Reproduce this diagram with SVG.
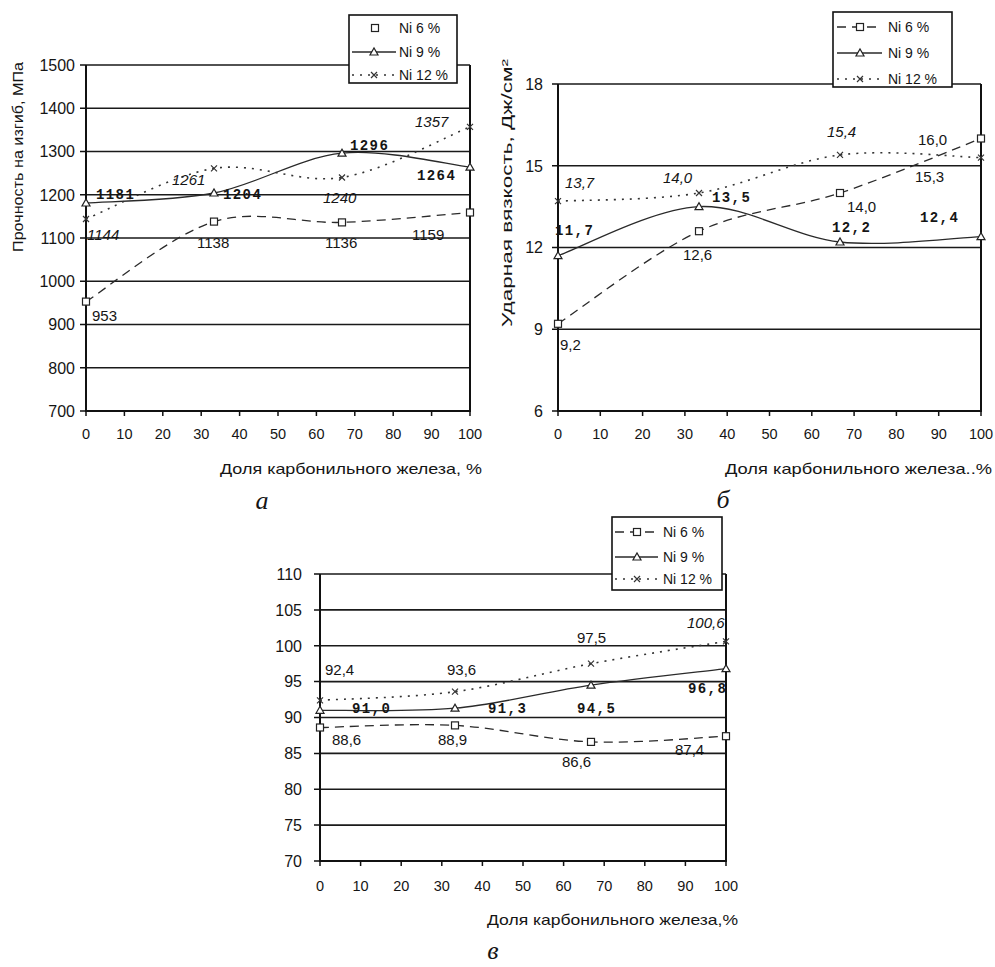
<svg xmlns="http://www.w3.org/2000/svg" xmlns:xlink="http://www.w3.org/1999/xlink" width="995" height="967" viewBox="0 0 995 967">
<style>
text{font-family:"Liberation Sans",Arial,sans-serif;fill:#151515}
.grid{stroke:#1a1a1a;stroke-width:1.6;fill:none}
.axis{stroke:#111;stroke-width:2;fill:none}
.tk{stroke:#111;stroke-width:1.5}
.xt{font-size:14.5px;text-anchor:middle}
.yt{font-size:16px;text-anchor:end}
.ttl{font-size:15px}
.lp{font-size:15px}
.li{font-size:15px;font-style:italic}
.lm{font-family:"Liberation Mono","Courier New",monospace;font-size:14px;font-weight:bold;letter-spacing:1.4px}
.s6{stroke:#2a2a2a;stroke-width:1.3;fill:none;stroke-dasharray:9 6}
.s9{stroke:#2a2a2a;stroke-width:1.3;fill:none}
.s12{stroke:#333;stroke-width:1.6;fill:none;stroke-dasharray:2 6}
.mk{fill:#fff;stroke:#222;stroke-width:1.2}
.xm{fill:none;stroke:#333;stroke-width:1.2}
.leg{fill:#fff;stroke:#111;stroke-width:1.6}
.lt{font-size:14px}
.cap{font-family:"Liberation Serif","Times New Roman",serif;font-style:italic;font-size:26px;text-anchor:middle}
</style>
<defs>
<rect id="sq" x="-3.5" y="-3.5" width="7" height="7" class="mk"/>
<path id="tri" d="M-4,3 L4,3 L0,-4 Z" class="mk"/>
<path id="xx" d="M-3,-3 L3,3 M-3,3 L3,-3" class="xm"/>
<clipPath id="clipC"><rect x="240" y="571" width="60" height="160"/></clipPath>
</defs>
<rect width="995" height="967" fill="#fff"/>

<!-- ================= Chart a ================= -->
<g id="chart-a">
<g id="a-grid">
<path class="grid" d="M86,65H470M86,108.25H470M86,151.5H470M86,194.75H470M86,238H470M86,281.25H470M86,324.5H470M86,367.75H470"/>
<path class="axis" d="M86,65V411H470V65"/>
<path class="tk" d="M80,65H86M80,108.25H86M80,151.5H86M80,194.75H86M80,238H86M80,281.25H86M80,324.5H86M80,367.75H86M80,411H86"/>
<path class="tk" d="M86,411V416M124.4,411V416M162.8,411V416M201.2,411V416M239.6,411V416M278,411V416M316.4,411V416M354.8,411V416M393.2,411V416M431.6,411V416M470,411V416"/>
</g>
<g id="a-yticks">
<text class="yt" x="75" y="70.5">1500</text>
<text class="yt" x="75" y="113.5">1400</text>
<text class="yt" x="75" y="157">1300</text>
<text class="yt" x="75" y="200.5">1200</text>
<text class="yt" x="75" y="243.5">1100</text>
<text class="yt" x="75" y="286.5">1000</text>
<text class="yt" x="75" y="330">900</text>
<text class="yt" x="75" y="373.5">800</text>
<text class="yt" x="75" y="416.5">700</text>
</g>
<g id="a-xticks">
<text class="xt" x="86" y="439">0</text>
<text class="xt" x="124.4" y="439">10</text>
<text class="xt" x="162.8" y="439">20</text>
<text class="xt" x="201.2" y="439">30</text>
<text class="xt" x="239.6" y="439">40</text>
<text class="xt" x="278" y="439">50</text>
<text class="xt" x="316.4" y="439">60</text>
<text class="xt" x="354.8" y="439">70</text>
<text class="xt" x="393.2" y="439">80</text>
<text class="xt" x="431.6" y="439">90</text>
<text class="xt" x="470" y="439">100</text>
</g>
<text id="a-xtitle" class="ttl" x="482" y="474" text-anchor="end" textLength="262" lengthAdjust="spacingAndGlyphs">Доля карбонильного железа,  %</text>
<text id="a-ytitle" class="ttl" transform="translate(23,157) rotate(-90)" text-anchor="middle" font-size="14" textLength="190" lengthAdjust="spacingAndGlyphs">Прочность на изгиб, МПа</text>
<g id="a-series">
<path class="s6" d="M86,301.6 C107.3,288.3 171.3,234.8 214,221.6 C256.7,208.4 299.3,223.9 342,222.4 C384.7,220.9 448.7,214.1 470,212.5"/>
<path class="s9" d="M86,203 C107.3,201.3 171.3,201.3 214,193 C256.7,184.7 299.3,157.5 342,153.2 C384.7,148.9 448.7,164.7 470,167.1"/>
<path class="s12" d="M86,219 C107.3,210.6 171.3,175.3 214,168.4 C256.7,161.5 299.3,184.4 342,177.5 C384.7,170.6 448.7,135.3 470,126.8"/>
<use xlink:href="#sq" x="86" y="301.6"/><use xlink:href="#sq" x="214" y="221.6"/><use xlink:href="#sq" x="342" y="222.4"/><use xlink:href="#sq" x="470" y="212.5"/>
<use xlink:href="#tri" x="86" y="203"/><use xlink:href="#tri" x="214" y="193"/><use xlink:href="#tri" x="342" y="153.2"/><use xlink:href="#tri" x="470" y="167.1"/>
<use xlink:href="#xx" x="86" y="219"/><use xlink:href="#xx" x="214" y="168.4"/><use xlink:href="#xx" x="342" y="177.5"/><use xlink:href="#xx" x="470" y="126.8"/>
</g>
<g id="a-labels">
<text class="lm" x="96" y="199">1181</text>
<text class="lm" x="223" y="199">1204</text>
<text class="lm" x="350" y="150">1296</text>
<text class="lm" x="417" y="180">1264</text>
<text class="li" x="172" y="185">1261</text>
<text class="li" x="323" y="203">1240</text>
<text class="li" x="415" y="127">1357</text>
<text class="li" x="87" y="240">1144</text>
<text class="lp" x="197" y="248">1138</text>
<text class="lp" x="325" y="248">1136</text>
<text class="lp" x="412" y="240">1159</text>
<text class="lp" x="92" y="321">953</text>
</g>
<g id="a-legend">
<rect class="leg" x="349" y="15" width="108" height="68"/>
<use xlink:href="#sq" x="375" y="28"/>
<text class="lt" x="399" y="33">Ni 6 %</text>
<path class="s9" d="M352,52H396"/><use xlink:href="#tri" x="374" y="52"/>
<text class="lt" x="399" y="57">Ni 9 %</text>
<path class="s12" d="M352,75H396"/><use xlink:href="#xx" x="374" y="75"/>
<text class="lt" x="399" y="80">Ni 12 %</text>
</g>
<text id="a-cap" class="cap" x="262" y="509">а</text>
</g>

<!-- ================= Chart б ================= -->
<g id="chart-b">
<g id="b-grid">
<path class="grid" d="M558,84H981M558,165.75H981M558,247.5H981M558,329.25H981"/>
<path class="axis" d="M558,84V411H981V84"/>
<path class="tk" d="M552,84H558M552,165.75H558M552,247.5H558M552,329.25H558M552,411H558"/>
<path class="tk" d="M558,411V416M600.3,411V416M642.6,411V416M684.9,411V416M727.2,411V416M769.5,411V416M811.8,411V416M854.1,411V416M896.4,411V416M938.7,411V416M981,411V416"/>
</g>
<g id="b-yticks">
<text class="yt" x="543" y="89.5">18</text>
<text class="yt" x="543" y="171.5">15</text>
<text class="yt" x="543" y="253">12</text>
<text class="yt" x="543" y="335">9</text>
<text class="yt" x="543" y="416.5">6</text>
</g>
<g id="b-xticks">
<text class="xt" x="558" y="439">0</text>
<text class="xt" x="600.3" y="439">10</text>
<text class="xt" x="642.6" y="439">20</text>
<text class="xt" x="684.9" y="439">30</text>
<text class="xt" x="727.2" y="439">40</text>
<text class="xt" x="769.5" y="439">50</text>
<text class="xt" x="811.8" y="439">60</text>
<text class="xt" x="854.1" y="439">70</text>
<text class="xt" x="896.4" y="439">80</text>
<text class="xt" x="938.7" y="439">90</text>
<text class="xt" x="981" y="439">100</text>
</g>
<text id="b-xtitle" class="ttl" x="992" y="474" text-anchor="end" textLength="267" lengthAdjust="spacingAndGlyphs">Доля карбонильного железа..%</text>
<text id="b-ytitle" class="ttl" transform="translate(512,193) rotate(-90)" text-anchor="middle" font-size="14" textLength="268" lengthAdjust="spacingAndGlyphs">Ударная вязкость,  Дж/см²</text>
<g id="b-series">
<path class="s6" d="M558,323.8 C581.5,308.4 652,253 699,231.2 C746,209.4 793,208.5 840,193 C887,177.5 957.5,147.6 981,138.5"/>
<path class="s9" d="M558,255.7 C581.5,247.5 652,208.9 699,206.6 C746,204.3 793,237 840,242 C887,247 957.5,237.5 981,236.6"/>
<path class="s12" d="M558,201.2 C581.5,199.8 652,200.7 699,193 C746,185.3 793,160.8 840,154.9 C887,149 957.5,157.15 981,157.6"/>
<use xlink:href="#sq" x="558" y="323.8"/><use xlink:href="#sq" x="699" y="231.2"/><use xlink:href="#sq" x="840" y="193"/><use xlink:href="#sq" x="981" y="138.5"/>
<use xlink:href="#tri" x="558" y="255.7"/><use xlink:href="#tri" x="699" y="206.6"/><use xlink:href="#tri" x="840" y="242"/><use xlink:href="#tri" x="981" y="236.6"/>
<use xlink:href="#xx" x="558" y="201.2"/><use xlink:href="#xx" x="699" y="193"/><use xlink:href="#xx" x="840" y="154.9"/><use xlink:href="#xx" x="981" y="157.6"/>
</g>
<g id="b-labels">
<text class="li" x="565" y="188">13,7</text>
<text class="li" x="663" y="183">14,0</text>
<text class="li" x="827" y="137">15,4</text>
<text class="lm" x="712" y="202">13,5</text>
<text class="lm" x="555" y="235">11,7</text>
<text class="lm" x="832" y="232">12,2</text>
<text class="lm" x="920" y="222">12,4</text>
<text class="lp" x="918" y="145">16,0</text>
<text class="lp" x="915" y="182">15,3</text>
<text class="lp" x="847" y="212">14,0</text>
<text class="lp" x="683" y="260">12,6</text>
<text class="lp" x="560" y="350">9,2</text>
</g>
<g id="b-legend">
<rect class="leg" x="833" y="12" width="119" height="75"/>
<path class="s6" d="M837,27H882" stroke-dasharray="7 5"/><use xlink:href="#sq" x="860" y="27"/>
<text class="lt" x="888" y="32">Ni 6 %</text>
<path class="s9" d="M837,53H882"/><use xlink:href="#tri" x="860" y="53"/>
<text class="lt" x="888" y="58">Ni 9 %</text>
<path class="s12" d="M837,79H882"/><use xlink:href="#xx" x="860" y="79"/>
<text class="lt" x="888" y="84">Ni 12 %</text>
</g>
<text id="b-cap" class="cap" x="723" y="508">б</text>
</g>

<!-- ================= Chart в ================= -->
<g id="chart-c">
<g id="c-grid">
<path class="grid" d="M320,574H726M320,609.9H726M320,645.75H726M320,681.6H726M320,717.5H726M320,753.4H726M320,789.25H726M320,825.1H726"/>
<path class="axis" d="M320,574V861H726V574"/>
<path class="tk" d="M314,574H320M314,609.9H320M314,645.75H320M314,681.6H320M314,717.5H320M314,753.4H320M314,789.25H320M314,825.1H320M314,861H320"/>
<path class="tk" d="M320,861V866M360.6,861V866M401.2,861V866M441.8,861V866M482.4,861V866M523,861V866M563.6,861V866M604.2,861V866M644.8,861V866M685.4,861V866M726,861V866"/>
</g>
<g id="c-yticks">
<text class="yt" x="302" y="579.5">110</text>
<text class="yt" x="302" y="615.5">105</text>
<text class="yt" x="302" y="651.5">100</text>
<text class="yt" x="302" y="687">95</text>
<text class="yt" x="302" y="723">90</text>
<text class="yt" x="302" y="759">85</text>
<text class="yt" x="302" y="794.5">80</text>
<text class="yt" x="302" y="830.5">75</text>
<text class="yt" x="302" y="866.5">70</text>
</g>
<g id="c-xticks">
<text class="xt" x="320" y="891">0</text>
<text class="xt" x="360.6" y="891">10</text>
<text class="xt" x="401.2" y="891">20</text>
<text class="xt" x="441.8" y="891">30</text>
<text class="xt" x="482.4" y="891">40</text>
<text class="xt" x="523" y="891">50</text>
<text class="xt" x="563.6" y="891">60</text>
<text class="xt" x="604.2" y="891">70</text>
<text class="xt" x="644.8" y="891">80</text>
<text class="xt" x="685.4" y="891">90</text>
<text class="xt" x="726" y="891">100</text>
</g>
<text id="c-xtitle" class="ttl" x="738" y="925" text-anchor="end" textLength="251" lengthAdjust="spacingAndGlyphs">Доля карбонильного железа,%</text>
<text id="c-ytitle" class="ttl" clip-path="url(#clipC)" transform="translate(270,636) rotate(-90)" text-anchor="middle" font-size="14" textLength="140" lengthAdjust="spacingAndGlyphs">Твердость, HRB</text>
<g id="c-series">
<path class="s6" d="M320,727.5 C342.6,727.2 409.9,723 455,725.4 C500.1,727.8 545.9,740.1 591,741.9 C636.1,743.7 703.4,737.2 726,736.2"/>
<path class="s9" d="M320,710.3 C342.6,710 409.9,712.4 455,708.2 C500.1,704 545.9,691.8 591,685.2 C636.1,678.6 703.4,671.5 726,668.7"/>
<path class="s12" d="M320,700.3 C342.6,698.9 409.9,697.8 455,691.7 C500.1,685.6 545.9,672.1 591,663.7 C636.1,655.3 703.4,645.1 726,641.4"/>
<use xlink:href="#sq" x="320" y="727.5"/><use xlink:href="#sq" x="455" y="725.4"/><use xlink:href="#sq" x="591" y="741.9"/><use xlink:href="#sq" x="726" y="736.2"/>
<use xlink:href="#tri" x="320" y="710.3"/><use xlink:href="#tri" x="455" y="708.2"/><use xlink:href="#tri" x="591" y="685.2"/><use xlink:href="#tri" x="726" y="668.7"/>
<use xlink:href="#xx" x="320" y="700.3"/><use xlink:href="#xx" x="455" y="691.7"/><use xlink:href="#xx" x="591" y="663.7"/><use xlink:href="#xx" x="726" y="641.4"/>
</g>
<g id="c-labels">
<text class="lp" x="325" y="675">92,4</text>
<text class="lp" x="447" y="675">93,6</text>
<text class="lp" x="577" y="643">97,5</text>
<text class="li" x="687" y="628">100,6</text>
<text class="lm" x="352" y="713">91,0</text>
<text class="lm" x="488" y="713">91,3</text>
<text class="lm" x="577" y="713">94,5</text>
<text class="lm" x="688" y="693">96,8</text>
<text class="lp" x="332" y="745">88,6</text>
<text class="lp" x="438" y="745">88,9</text>
<text class="lp" x="562" y="767">86,6</text>
<text class="lp" x="675" y="755">87,4</text>
</g>
<g id="c-legend">
<rect class="leg" x="612" y="517" width="110" height="73"/>
<path class="s6" d="M615,532H658" stroke-dasharray="7 5"/><use xlink:href="#sq" x="637" y="532"/>
<text class="lt" x="663" y="537">Ni 6 %</text>
<path class="s9" d="M615,557H658"/><use xlink:href="#tri" x="637" y="557"/>
<text class="lt" x="663" y="562">Ni 9 %</text>
<path class="s12" d="M615,579H658"/><use xlink:href="#xx" x="637" y="579"/>
<text class="lt" x="663" y="584">Ni 12 %</text>
</g>
<text id="c-cap" class="cap" x="493" y="959">в</text>
</g>
</svg>
